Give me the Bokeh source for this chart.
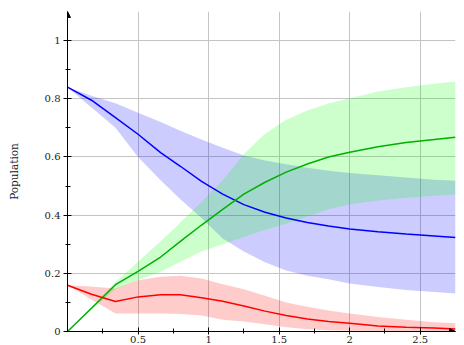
from bokeh.plotting import figure
from bokeh.models import Range1d, FixedTicker, Arrow, NormalHead
from bokeh.embed import file_html
from bokeh.resources import INLINE

# ---- data ----
t = [0, 0.17, 0.34, 0.5, 0.66, 0.8, 0.95, 1.1, 1.25, 1.4, 1.55, 1.7, 1.85, 2.0, 2.2, 2.4, 2.6, 2.75]

blue_mean = [0.84, 0.795, 0.735, 0.678, 0.615, 0.568, 0.516, 0.472, 0.436, 0.41, 0.39, 0.375, 0.363, 0.352, 0.343, 0.335, 0.328, 0.323]
blue_hi = [0.84, 0.81, 0.785, 0.752, 0.72, 0.69, 0.66, 0.632, 0.605, 0.588, 0.575, 0.563, 0.553, 0.545, 0.537, 0.529, 0.522, 0.518]
blue_lo = [0.84, 0.77, 0.70, 0.60, 0.52, 0.455, 0.39, 0.32, 0.275, 0.238, 0.21, 0.192, 0.18, 0.165, 0.153, 0.143, 0.136, 0.131]

green_mean = [0.0, 0.08, 0.161, 0.207, 0.256, 0.31, 0.366, 0.42, 0.472, 0.513, 0.548, 0.576, 0.6, 0.616, 0.635, 0.65, 0.66, 0.668]
green_hi = [0.0, 0.085, 0.17, 0.24, 0.31, 0.375, 0.445, 0.52, 0.61, 0.68, 0.728, 0.76, 0.784, 0.802, 0.825, 0.84, 0.852, 0.859]
green_lo = [0.0, 0.075, 0.145, 0.176, 0.205, 0.24, 0.275, 0.3, 0.325, 0.35, 0.37, 0.395, 0.42, 0.437, 0.45, 0.46, 0.467, 0.472]

red_mean = [0.159, 0.128, 0.103, 0.119, 0.126, 0.126, 0.116, 0.104, 0.088, 0.07, 0.055, 0.043, 0.034, 0.028, 0.019, 0.015, 0.012, 0.009]
red_hi = [0.159, 0.155, 0.148, 0.176, 0.188, 0.192, 0.182, 0.162, 0.145, 0.123, 0.1, 0.085, 0.072, 0.062, 0.05, 0.04, 0.032, 0.028]
red_lo = [0.159, 0.11, 0.062, 0.062, 0.062, 0.06, 0.055, 0.04, 0.034, 0.025, 0.015, 0.008, 0.004, 0.003, 0.002, 0.002, 0.002, 0.002]

y_ticks = [0, 0.2, 0.4, 0.6, 0.8, 1]
y_tick_labels = ["0", "0.2", "0.4", "0.6", "0.8", "1"]
y_minor = [0.1, 0.3, 0.5, 0.7, 0.9]
x_ticks = [0.5, 1, 1.5, 2, 2.5]
x_tick_labels = ["0.5", "1", "1.5", "2", "2.5"]
x_minor = [0.25, 0.75, 1.25, 1.75, 2.25]

SERIF = "DejaVu Serif"

p = figure(width=464, height=345, output_backend="svg", toolbar_location=None,
           x_range=Range1d(0, 2.75), y_range=Range1d(0, 1.1),
           min_border_left=67, min_border_right=9, min_border_top=11, min_border_bottom=12)
p.outline_line_color = None
p.background_fill_color = "white"
p.border_fill_color = "white"

# bands
p.varea(x=t, y1=blue_lo, y2=blue_hi, fill_color="#0000ff", fill_alpha=0.2)
p.varea(x=t, y1=green_lo, y2=green_hi, fill_color="#00ff00", fill_alpha=0.2)
p.varea(x=t, y1=red_lo, y2=red_hi, fill_color="#ff0000", fill_alpha=0.2)

# means
p.line(t, blue_mean, line_color="#0000ff", line_width=1.5)
p.line(t, green_mean, line_color="#00b000", line_width=1.5)
p.line(t, red_mean, line_color="#ff0000", line_width=1.5)

# grids
p.xgrid.ticker = FixedTicker(ticks=x_ticks)
p.ygrid.ticker = FixedTicker(ticks=y_ticks[1:])
for g in (p.xgrid, p.ygrid):
    g.grid_line_color = "#c4c4c4"
    g.grid_line_width = 1

# axes
for ax in (p.xaxis, p.yaxis):
    ax.axis_line_color = "black"
    ax.axis_line_width = 1
    ax.major_tick_line_color = "black"
    ax.minor_tick_line_color = "black"
    ax.major_tick_in = 4
    ax.minor_tick_in = 3
    ax.minor_tick_out = 2
    ax.major_label_text_font = SERIF
    ax.major_label_text_font_size = "10px"
    ax.major_label_text_color = "#222222"

p.yaxis.major_tick_out = 4
p.yaxis.ticker = FixedTicker(ticks=y_ticks, minor_ticks=y_minor)
p.yaxis.major_label_overrides = dict(zip(y_ticks, y_tick_labels))
p.yaxis.major_label_standoff = 3
p.yaxis.axis_label = "Population"
p.yaxis.axis_label_text_font = SERIF
p.yaxis.axis_label_text_font_size = "10.5px"
p.yaxis.axis_label_text_font_style = "normal"
p.yaxis.axis_label_text_color = "#222222"
p.yaxis.axis_label_standoff = 22

p.xaxis.major_tick_out = 3
p.xaxis.ticker = FixedTicker(ticks=x_ticks, minor_ticks=x_minor)
p.xaxis.major_label_overrides = dict(zip(x_ticks, x_tick_labels))
p.xaxis.major_label_standoff = 1

# axis arrows
p.add_layout(Arrow(end=NormalHead(size=6, line_color="black", fill_color="black", line_width=1),
                   x_start=0, y_start=1.07, x_end=0, y_end=1.1, line_color="black", line_width=1))
p.add_layout(Arrow(end=NormalHead(size=6, line_color="black", fill_color="black", line_width=1),
                   x_start=2.7, y_start=0, x_end=2.75, y_end=0, line_color="black", line_width=1))

open("out.html", "w").write(file_html(p, INLINE))
